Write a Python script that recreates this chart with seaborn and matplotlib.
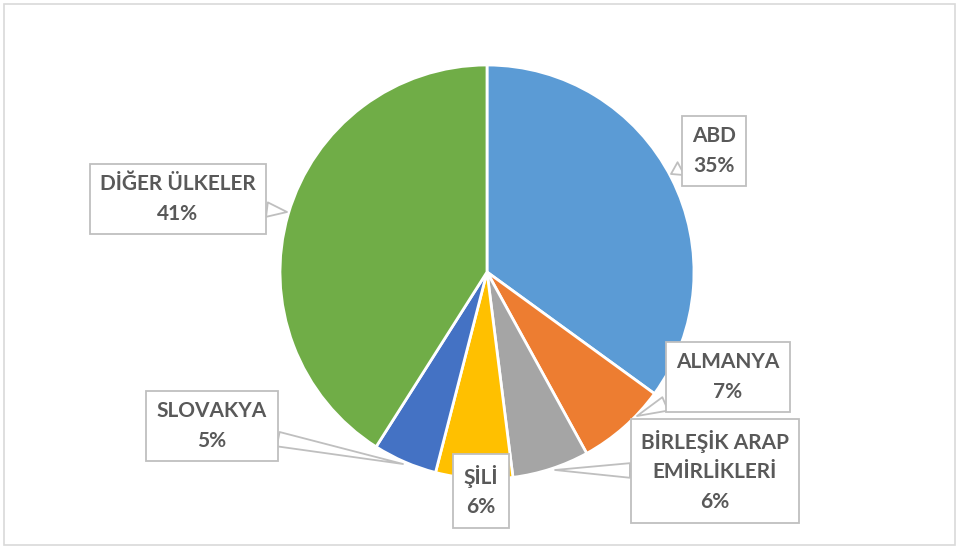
import matplotlib
matplotlib.use("Agg")
import matplotlib.pyplot as plt
import seaborn as sns
from matplotlib.patches import Rectangle

# -------------------------------
# Data
# -------------------------------
countries = ["ABD", "ALMANYA", "BİRLEŞİK ARAP\nEMİRLİKLERİ", "ŞİLİ", "SLOVAKYA", "DİĞER ÜLKELER"]
shares = [35, 7, 6, 6, 5, 41]
colors = ["#5B9BD5", "#ED7D31", "#A5A5A5", "#FFC000", "#4472C4", "#70AD47"]

# label box centres and pointer tips (pixel coords, y down)
label_pos = [(714, 151), (728, 377), (715, 471), (481, 491), (212, 426), (178, 199)]
tip_pos = [(671, 174), (637, 416), (555, 470), (472, 470), (403, 464), (287, 212)]

sns.set_theme(style="white")
plt.rcParams["font.family"] = ["Lato", "DejaVu Sans"]

W, H = 960, 548
fig = plt.figure(figsize=(9.6, 5.48), dpi=100)
ax = fig.add_axes([0, 0, 1, 1])

# -------------------------------
# Pie
# -------------------------------
cx, cy, r = 487, H - 272, 207
ax.pie(shares, colors=colors, startangle=90, counterclock=False,
       center=(cx, cy), radius=r, frame=True,
       wedgeprops=dict(edgecolor="white", linewidth=2))
ax.set_xlim(0, W)
ax.set_ylim(0, H)
ax.axis("off")

# -------------------------------
# Callout labels
# -------------------------------
for name, val, (lx, ly), (tx, ty) in zip(countries, shares, label_pos, tip_pos):
    ax.annotate(f"{name}\n{val}%", xy=(tx, H - ty), xytext=(lx, H - ly),
                ha="center", va="center", fontsize=15, fontweight="bold",
                color="#595959", linespacing=1.6,
                bbox=dict(boxstyle="square,pad=0.5", fc="white", ec="#BFBFBF", lw=1.3),
                arrowprops=dict(arrowstyle="wedge,tail_width=0.7,shrink_factor=0.5",
                                fc="white", ec="#BFBFBF", lw=1.3, shrinkA=0, shrinkB=0))

# chart border
fig.patches.append(Rectangle((4 / W, 3 / H), 951 / W, 541 / H, transform=fig.transFigure,
                             fill=False, ec="#D9D9D9", lw=1.2))

fig.savefig("out.png", dpi=100, facecolor="white")
